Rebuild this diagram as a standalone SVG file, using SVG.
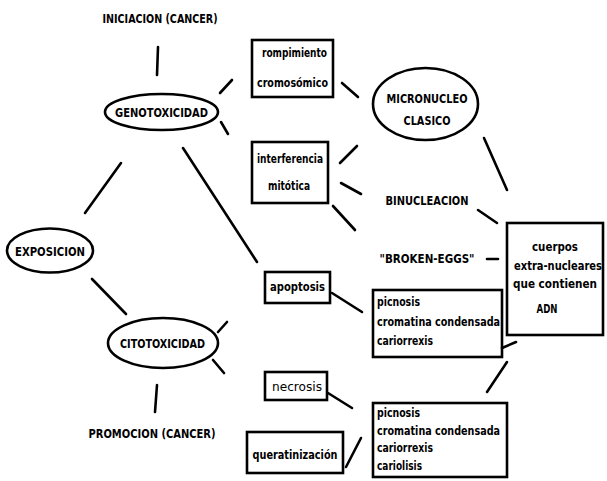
<svg xmlns="http://www.w3.org/2000/svg" width="607" height="481" viewBox="0 0 607 481">
<style>
.bg{fill:#fff}
.n{fill:none;stroke:#000;stroke-width:2.6}
.c line{stroke:#000;stroke-width:2.6;stroke-linecap:round}
text{font-family:"DejaVu Sans Condensed","DejaVu Sans","Liberation Sans",sans-serif;font-weight:bold;fill:#000}
.u{font-size:13px}
.l{font-size:11.5px}
.m{text-anchor:middle}
.thin{font-weight:normal}
</style>
<rect class="bg" width="607" height="481"/>
<g id="connectors" class="c">
<line x1="158" y1="47" x2="157" y2="75"/>
<line x1="220" y1="93" x2="232" y2="80"/>
<line x1="221" y1="122" x2="228" y2="134"/>
<line x1="121" y1="163" x2="85" y2="213"/>
<line x1="183" y1="148" x2="257" y2="262"/>
<line x1="92" y1="279" x2="126" y2="314"/>
<line x1="218" y1="332" x2="227" y2="322"/>
<line x1="213" y1="360" x2="224" y2="373"/>
<line x1="157" y1="385" x2="155" y2="412"/>
<line x1="342" y1="83" x2="358" y2="97"/>
<line x1="340" y1="163" x2="357" y2="146"/>
<line x1="341" y1="183" x2="361" y2="194"/>
<line x1="333" y1="206" x2="355" y2="230"/>
<line x1="484" y1="138" x2="507" y2="190"/>
<line x1="478" y1="210" x2="497" y2="223"/>
<line x1="487" y1="259" x2="498" y2="259"/>
<line x1="332" y1="293" x2="362" y2="312"/>
<line x1="502" y1="348" x2="516" y2="342"/>
<line x1="487" y1="392" x2="507" y2="362"/>
<line x1="328" y1="393" x2="352" y2="408"/>
<line x1="346" y1="467" x2="361" y2="438"/>
</g>
<g id="iniciacion"><text class="u m" x="160" y="23" textLength="115" lengthAdjust="spacingAndGlyphs">INICIACION (CANCER)</text></g>
<g id="genotoxicidad"><ellipse class="n" cx="161.5" cy="112" rx="56.5" ry="18"/><text class="u m" x="161.5" y="117" textLength="93" lengthAdjust="spacingAndGlyphs">GENOTOXICIDAD</text></g>
<g id="exposicion"><ellipse class="n" cx="50" cy="250.5" rx="43" ry="22"/><text class="u m" x="50" y="255.5" textLength="70" lengthAdjust="spacingAndGlyphs">EXPOSICION</text></g>
<g id="citotoxicidad"><ellipse class="n" cx="163" cy="343" rx="55" ry="25"/><text class="u m" x="162.5" y="348" textLength="85" lengthAdjust="spacingAndGlyphs">CITOTOXICIDAD</text></g>
<g id="promocion"><text class="u m" x="152" y="438" textLength="127" lengthAdjust="spacingAndGlyphs">PROMOCION (CANCER)</text></g>
<g id="rompimiento"><rect class="n" x="252" y="40" width="81" height="57"/><text class="l m" x="294.5" y="57" textLength="65" lengthAdjust="spacingAndGlyphs">rompimiento</text><text class="l m" x="292.5" y="87" textLength="71" lengthAdjust="spacingAndGlyphs">cromosómico</text></g>
<g id="interferencia"><rect class="n" x="252" y="142" width="76" height="61"/><text class="l m" x="290" y="163" textLength="66" lengthAdjust="spacingAndGlyphs">interferencia</text><text class="l m" x="289" y="190" textLength="42" lengthAdjust="spacingAndGlyphs">mitótica</text></g>
<g id="micronucleo"><ellipse class="n" cx="425.5" cy="104" rx="52.5" ry="36"/><text class="u m" x="427" y="103" textLength="81" lengthAdjust="spacingAndGlyphs">MICRONUCLEO</text><text class="u m" x="427" y="125" textLength="47" lengthAdjust="spacingAndGlyphs">CLASICO</text></g>
<g id="binucleacion"><text class="u m" x="427" y="205" textLength="83" lengthAdjust="spacingAndGlyphs">BINUCLEACION</text></g>
<g id="broken-eggs"><text class="u m" x="427" y="263" textLength="95" lengthAdjust="spacingAndGlyphs">"BROKEN-EGGS"</text></g>
<g id="cuerpos"><rect class="n" x="507" y="223" width="96" height="112"/><text class="l m" x="555" y="251" textLength="46" lengthAdjust="spacingAndGlyphs">cuerpos</text><text class="l m" x="558" y="270" textLength="88" lengthAdjust="spacingAndGlyphs">extra-nucleares</text><text class="l m" x="555" y="288" textLength="84" lengthAdjust="spacingAndGlyphs">que contienen</text><text class="l m" x="547" y="313" textLength="21" lengthAdjust="spacingAndGlyphs">ADN</text></g>
<g id="apoptosis"><rect class="n" x="265" y="272" width="65" height="31"/><text class="l m" x="297.5" y="291" textLength="55" lengthAdjust="spacingAndGlyphs">apoptosis</text></g>
<g id="apoptosis-signos"><rect class="n" x="373" y="290" width="129" height="67"/><text class="l" x="377" y="306" textLength="43" lengthAdjust="spacingAndGlyphs">picnosis</text><text class="l" x="377" y="326" textLength="123" lengthAdjust="spacingAndGlyphs">cromatina condensada</text><text class="l" x="377" y="345" textLength="56" lengthAdjust="spacingAndGlyphs">cariorrexis</text></g>
<g id="necrosis"><rect class="n" x="265" y="372" width="62" height="28"/><text class="l m thin" x="297" y="391" textLength="50" lengthAdjust="spacingAndGlyphs">necrosis</text></g>
<g id="necrosis-signos"><rect class="n" x="373" y="403" width="134" height="74"/><text class="l" x="377" y="417" textLength="43" lengthAdjust="spacingAndGlyphs">picnosis</text><text class="l" x="377" y="435" textLength="123" lengthAdjust="spacingAndGlyphs">cromatina condensada</text><text class="l" x="377" y="452" textLength="56" lengthAdjust="spacingAndGlyphs">cariorrexis</text><text class="l" x="377" y="470" textLength="45" lengthAdjust="spacingAndGlyphs">cariolisis</text></g>
<g id="queratinizacion"><rect class="n" x="247" y="432" width="96" height="41"/><text class="l m" x="295" y="459" textLength="85" lengthAdjust="spacingAndGlyphs">queratinización</text></g>
</svg>
